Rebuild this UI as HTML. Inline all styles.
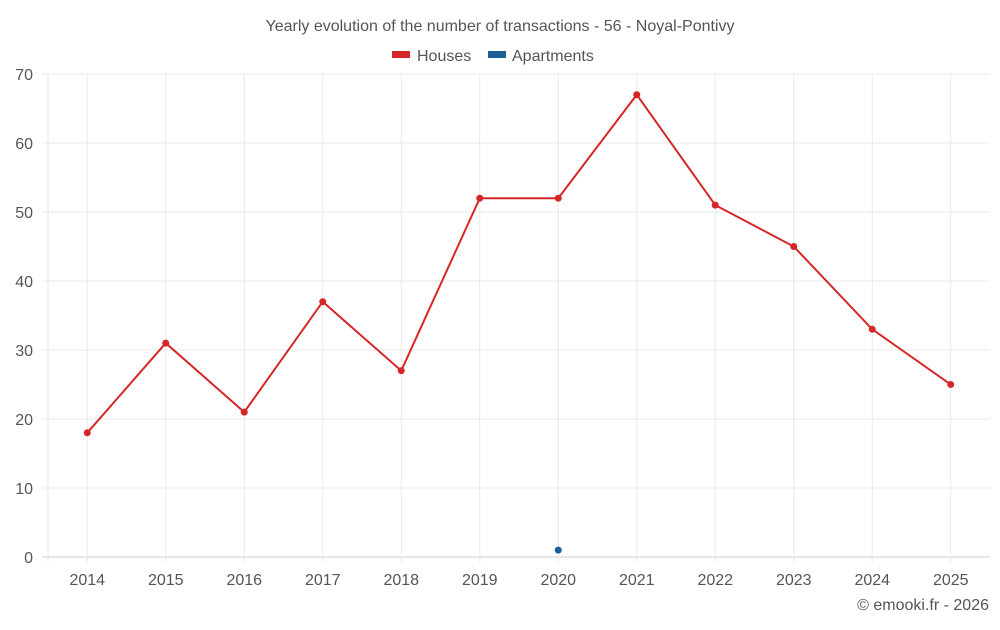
<!DOCTYPE html>
<html><head><meta charset="utf-8"><style>
body{margin:0;background:#fff;font-family:"Liberation Sans",Arial,sans-serif;}
svg text{font-family:"Liberation Sans",Arial,sans-serif;}
</style></head><body>
<svg id="c" width="1000" height="625" xmlns="http://www.w3.org/2000/svg">
<text x="500" y="31" text-anchor="middle" font-size="16" fill="#555">Yearly evolution of the number of transactions - 56 - Noyal-Pontivy</text>
<g>
<g><rect x="392" y="51" width="18" height="7" fill="#d62728"/><text x="417" y="61" font-size="16" fill="#555">Houses</text></g>
<g><rect x="488" y="51" width="18" height="7" fill="#1f5f99"/><text x="512" y="61" font-size="16" fill="#555">Apartments</text></g>
</g>
<g id="grid"></g>
<g id="axes"></g>
<g id="series"></g>
<text x="989" y="610" text-anchor="end" font-size="16" fill="#555">© emooki.fr - 2026</text>
</svg>
<script>
const categories=["2014","2015","2016","2017","2018","2019","2020","2021","2022","2023","2024","2025"];
const houses=[18,31,21,37,27,52,52,67,51,45,33,25];
const apartments=[null,null,null,null,null,null,1,null,null,null,null,null];
const yTicks=[0,10,20,30,40,50,60,70];
const NS="http://www.w3.org/2000/svg";
const L=48,R=990,T=74,B=557,yMax=70;
const bw=(R-L)/categories.length;
const x=i=>L+bw*(i+0.5);
const y=v=>B-(v/yMax)*(B-T);
function mk(tag,attrs,parent,txt){const e=document.createElementNS(NS,tag);for(const k in attrs)e.setAttribute(k,attrs[k]);if(txt!==undefined)e.textContent=txt;parent.appendChild(e);return e;}
const grid=document.getElementById('grid'),axes=document.getElementById('axes'),ser=document.getElementById('series');
yTicks.forEach(t=>{
 const l=mk('line',{x1:L-6,x2:R,y1:y(t),y2:y(t),stroke:t===0?'#ccc':'#eaeaea','stroke-width':1},grid);
 
 
 const tx=mk('text',{x:33,y:y(t)+6,'text-anchor':'end','font-size':16,fill:'#555'},axes,String(t));
 
 
});
const edge=mk('line',{x1:L,x2:L,y1:T,y2:B+5,stroke:'#e6e6e6','stroke-width':1},grid);


categories.forEach((c,i)=>{
 const l=mk('line',{x1:x(i),x2:x(i),y1:T,y2:B+5,stroke:'#eaeaea','stroke-width':1},grid);
 
 
 const tx=mk('text',{x:x(i),y:585,'text-anchor':'middle','font-size':16,fill:'#555'},axes,c);
 
 
});
const pts=houses.map((v,i)=>x(i)+','+y(v)).join(' ');
const pl=mk('polyline',{points:pts,fill:'none',stroke:'#d62728','stroke-width':2},ser);


houses.forEach((v,i)=>{
 const c=mk('circle',{cx:x(i),cy:y(v),r:3.5,fill:'#d62728'},ser);
 
 
});
apartments.forEach((v,i)=>{
 if(v===null)return;
 const c=mk('circle',{cx:x(i),cy:y(v),r:3.5,fill:'#1f5f99'},ser);
 
 
});
</script>
</body></html>
